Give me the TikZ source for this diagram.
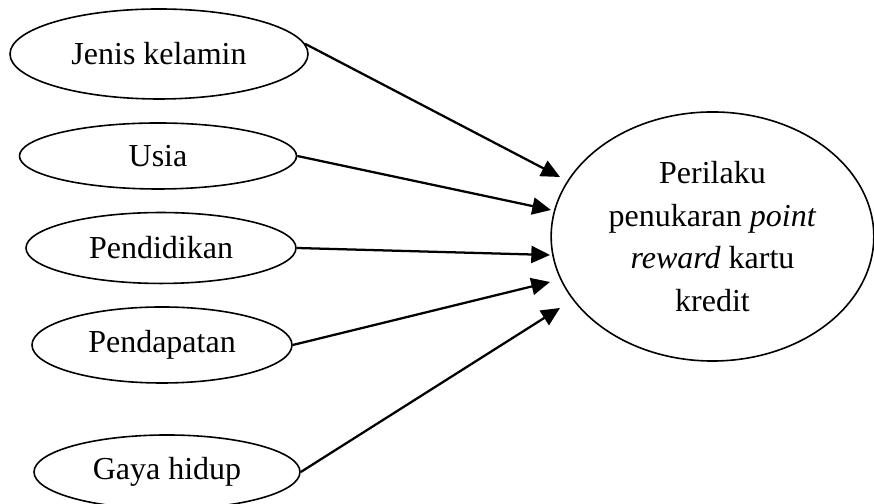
\documentclass[tikz,border=0pt]{standalone}
\usepackage{fontspec}
\setmainfont{Liberation Serif}
\usetikzlibrary{shapes.geometric,arrows.meta,positioning}

\tikzset{
    faktor/.style={ellipse, draw, line width=0.6pt, inner sep=0pt},
    hasil/.style={ellipse, draw, line width=0.6pt, inner sep=0pt, align=center,
        minimum width=121pt, minimum height=93.4pt},
    panah/.style={line width=0.85pt, -{Triangle[length=7pt,width=6.4pt]}}
}

\begin{document}
\begin{tikzpicture}[x=0.375pt, y=-0.375pt, font=\fontsize{12}{16}\selectfont]
    \useasboundingbox (0,0) rectangle (874,504);

    % variabel bebas
    \node[faktor, minimum width=111.75pt, minimum height=33.75pt] (jenis) at (159,54) {Jenis kelamin};
    \node[faktor, minimum width=103.9pt, minimum height=24.75pt] (usia) at (158,156) {Usia};
    \node[faktor, minimum width=101.25pt, minimum height=26.6pt] (didik) at (161,248) {Pendidikan};
    \node[faktor, minimum width=97.5pt, minimum height=28.5pt] (dapat) at (162,345) {Pendapatan};
    \node[faktor, minimum width=99.75pt, minimum height=27.75pt] (gaya) at (167,472) {Gaya hidup};

    % variabel terikat
    \node[hasil] (perilaku) at (712.5,236.5) {Perilaku\\penukaran \textit{point}\\\textit{reward} kartu\\kredit};

    \coordinate (t1) at (560,177);
    \coordinate (t2) at (551,210);
    \coordinate (t3) at (550,255);
    \coordinate (t4) at (550,282);
    \coordinate (t5) at (560,308);

    \draw[panah] (jenis.4) -- (t1);
    \draw[panah] (usia.east) -- (t2);
    \draw[panah] (didik.east) -- (t3);
    \draw[panah] (dapat.east) -- (t4);
    \draw[panah] (gaya.east) -- (t5);
\end{tikzpicture}
\end{document}
